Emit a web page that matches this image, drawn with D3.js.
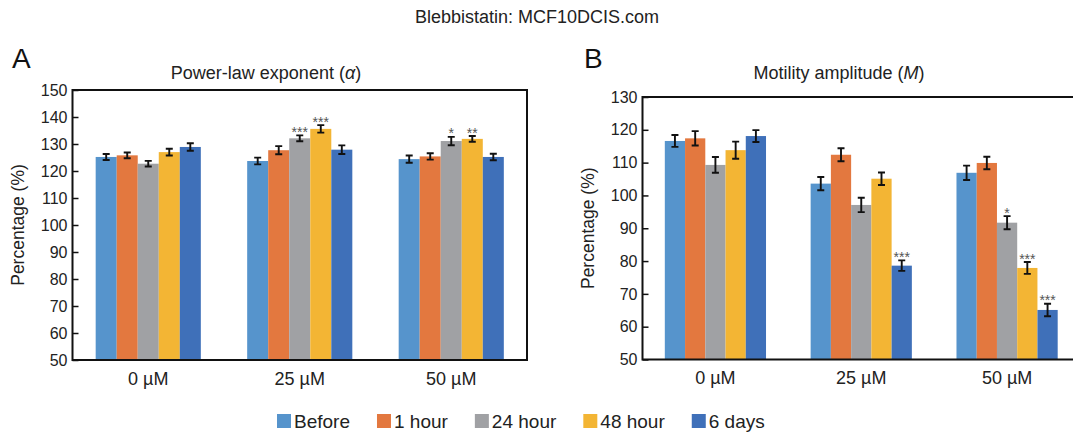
<!DOCTYPE html>
<html>
<head>
<meta charset="utf-8">
<script src="https://cdn.jsdelivr.net/npm/d3@7"></script>
<style>
  html, body { margin: 0; padding: 0; background: #fff; }
  svg { display: block; font-family: "Liberation Sans", Arial, Helvetica, sans-serif; }
</style>
</head>
<body>
<svg id="chart" width="1073" height="432"></svg>
<script>
// ---------- data ----------
const categories = ["0 µM", "25 µM", "50 µM"];
const seriesNames = ["Before", "1 hour", "24 hour", "48 hour", "6 days"];
const seriesColors = ["#5694cc", "#e3783f", "#a0a1a4", "#f3b534", "#3f70b9"];

// Panel A: Power-law exponent (alpha) — values per series across categories
const alphaValues = [
  [125.2, 123.7, 124.4],  // Before
  [125.8, 127.7, 125.4],  // 1 hour
  [122.7, 132.1, 131.1],  // 24 hour
  [127.0, 135.6, 131.9],  // 48 hour
  [128.9, 127.9, 125.2]   // 6 days
];
const alphaErrors = [
  [1.1, 1.25, 1.35],
  [1.05, 1.5, 1.2],
  [1.05, 1.1, 1.55],
  [1.25, 1.4, 1.05],
  [1.4, 1.6, 1.2]
];
const alphaStars = [
  ["", "", ""],
  ["", "", ""],
  ["", "***", "*"],
  ["", "***", "**"],
  ["", "", ""]
];
const alphaTicks = [50, 60, 70, 80, 90, 100, 110, 120, 130, 140, 150];

// Panel B: Motility amplitude (M)
const motilityValues = [
  [116.6, 103.6, 106.9],
  [117.4, 112.4, 109.9],
  [109.3, 97.1, 91.7],
  [113.8, 105.1, 77.9],
  [118.1, 78.6, 65.1]
];
const motilityErrors = [
  [1.8, 2.0, 2.2],
  [2.2, 2.0, 1.9],
  [2.4, 2.2, 2.0],
  [2.6, 1.9, 1.8],
  [1.8, 1.6, 1.9]
];
const motilityStars = [
  ["", "", ""],
  ["", "", ""],
  ["", "", "*"],
  ["", "", "***"],
  ["", "***", "***"]
];
const motilityTicks = [50, 60, 70, 80, 90, 100, 110, 120, 130];

// ---------- drawing ----------
const svg = d3.select("#chart");
const FONT = "\"Liberation Sans\", Arial, Helvetica, sans-serif";

svg.append("text")
  .attr("x", 537).attr("y", 23)
  .attr("text-anchor", "middle")
  .attr("font-size", 18).attr("fill", "#222")
  .text("Blebbistatin: MCF10DCIS.com");

function panel(cfg) {
  const g = svg.append("g");
  const x0 = d3.scaleBand().domain(categories)
    .range([cfg.left, cfg.right]).paddingInner(0.306).paddingOuter(0.153);
  const x1 = d3.scaleBand().domain(seriesNames).range([0, x0.bandwidth()]);
  const y = d3.scaleLinear().domain(cfg.domain).range([cfg.bottom, cfg.top]);

  // bars
  seriesNames.forEach((s, si) => {
    const rows = categories.map((c, ci) => ({
      c, v: cfg.values[si][ci], e: cfg.errors[si][ci], st: cfg.stars[si][ci]
    }));
    const sg = g.append("g");
    sg.selectAll("rect").data(rows).join("rect")
      .attr("x", d => x0(d.c) + x1(s))
      .attr("width", x1.bandwidth())
      .attr("y", d => y(d.v))
      .attr("height", d => y(cfg.domain[0]) - y(d.v))
      .attr("fill", seriesColors[si]);
    const cx = d => x0(d.c) + x1(s) + x1.bandwidth() / 2;
    // error bars
    sg.selectAll("path.err").data(rows).join("path")
      .attr("class", "err")
      .attr("d", d => {
        const xc = cx(d), yt = y(d.v + d.e), yb = y(d.v - d.e), w = 3.5;
        return `M${xc},${yt}V${yb}M${xc - w},${yt}H${xc + w}M${xc - w},${yb}H${xc + w}`;
      })
      .attr("stroke", "#111").attr("stroke-width", 1.9).attr("fill", "none");
    // significance stars
    sg.selectAll("text.star").data(rows.filter(d => d.st)).join("text")
      .attr("class", "star")
      .attr("x", cx)
      .attr("y", d => y(d.v + d.e) + 1.5)
      .attr("text-anchor", "middle")
      .attr("font-size", 14).attr("fill", "#555")
      .text(d => d.st);
  });

  // y axis (inward ticks)
  const ya = g.append("g").attr("transform", `translate(${cfg.left},0)`)
    .call(d3.axisLeft(y).tickValues(cfg.ticks).tickSizeInner(-6).tickSizeOuter(0).tickPadding(5));
  ya.select(".domain").remove();
  ya.selectAll(".tick line").attr("stroke", "#111").attr("stroke-width", 1.5);
  ya.selectAll(".tick text").attr("font-size", 16).attr("font-family", FONT).attr("fill", "#222");

  // x axis labels
  const xa = g.append("g").attr("transform", `translate(0,${cfg.bottom})`)
    .call(d3.axisBottom(x0).tickSize(0).tickPadding(12));
  xa.select(".domain").remove();
  xa.selectAll(".tick text").attr("font-size", 18).attr("font-family", FONT).attr("fill", "#222");

  // frame
  const fr = g.append("g").attr("fill", "none").attr("stroke", "#111").attr("stroke-width", 2);
  fr.append("path").attr("d",
    `M${cfg.left},${cfg.top}H${cfg.right}` +
    `M${cfg.left},${cfg.bottom}H${cfg.right}` +
    `M${cfg.left},${cfg.top - 1}V${cfg.bottom + 1}` +
    (cfg.rightBorder ? `M${cfg.right},${cfg.top - 1}V${cfg.bottom + 1}` : ""));

  // panel letter
  g.append("text").attr("x", cfg.letterX).attr("y", 68)
    .attr("font-size", 28).attr("fill", "#111").text(cfg.letter);

  // panel title
  const t = g.append("text").attr("x", cfg.titleX).attr("y", 78.5)
    .attr("text-anchor", "middle").attr("font-size", 18).attr("fill", "#222");
  t.append("tspan").text(cfg.titleMain);
  t.append("tspan").attr("font-style", "italic").text(cfg.titleSym);
  t.append("tspan").text(")");

  // y label
  g.append("text")
    .attr("transform", `translate(${cfg.ylabelX},${(cfg.top + cfg.bottom) / 2}) rotate(-90)`)
    .attr("text-anchor", "middle").attr("font-size", 17.5).attr("fill", "#222")
    .text("Percentage (%)");
}

panel({
  left: 72.5, right: 527, top: 90, bottom: 360, domain: [50, 150], ticks: alphaTicks,
  values: alphaValues, errors: alphaErrors, stars: alphaStars, rightBorder: true,
  letter: "A", letterX: 12, titleX: 266, titleMain: "Power-law exponent (", titleSym: "α",
  ylabelX: 24
});

panel({
  left: 642.5, right: 1080, top: 97, bottom: 359.5, domain: [50, 130], ticks: motilityTicks,
  values: motilityValues, errors: motilityErrors, stars: motilityStars, rightBorder: true,
  letter: "B", letterX: 584, titleX: 839, titleMain: "Motility amplitude (", titleSym: "M",
  ylabelX: 594
});

// legend
const legend = svg.append("g").attr("transform", "translate(277,414)");
let lx = 0;
seriesNames.forEach((s, i) => {
  const it = legend.append("g").attr("transform", `translate(${lx},0)`);
  it.append("rect").attr("width", 14).attr("height", 14).attr("fill", seriesColors[i]);
  const tx = it.append("text").attr("x", 17).attr("y", 14)
    .attr("font-size", 19).attr("fill", "#222").text(s);
  lx += 17 + tx.node().getComputedTextLength() + 27;
});
</script>
</body>
</html>
